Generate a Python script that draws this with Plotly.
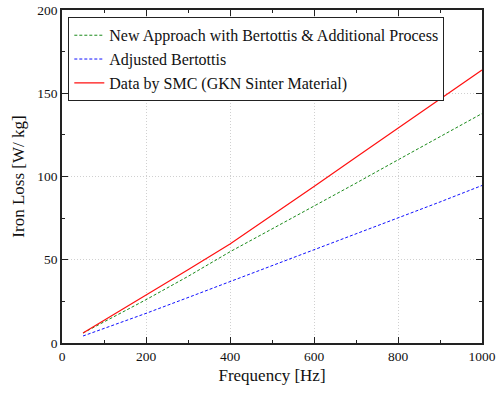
import plotly.graph_objects as go

freq = [50, 100, 200, 300, 400, 500, 600, 700, 800, 900, 1000]
new_approach = [6.0, 12.5, 26.0, 40.0, 54.8, 68.5, 82.0, 96.0, 110.0, 124.0, 137.8]
adjusted_bertottis = [4.2, 8.7, 17.8, 27.3, 36.8, 46.4, 55.9, 65.4, 74.9, 84.7, 94.6]
smc_freq = [50, 100, 200, 300, 400, 500, 600, 700, 800, 900, 1000]
smc_data = [6.0, 13.5, 28.5, 44.0, 59.5, 76.5, 94.0, 111.5, 129.0, 146.5, 164.0]

names = ["New Approach with Bertottis & Additional Process",
         "Adjusted Bertottis",
         "Data by SMC (GKN Sinter Material)"]

font_family = "Times New Roman, Liberation Serif, DejaVu Serif, serif"

fig = go.Figure()
fig.add_trace(go.Scatter(x=freq, y=new_approach, mode="lines", name=names[0],
                         line=dict(color="#1a8a1a", width=1, dash="3px,2px")))
fig.add_trace(go.Scatter(x=freq, y=adjusted_bertottis, mode="lines", name=names[1],
                         line=dict(color="#1010ff", width=1, dash="3px,2px")))
fig.add_trace(go.Scatter(x=smc_freq, y=smc_data, mode="lines", name=names[2],
                         line=dict(color="#ff1010", width=1.2)))

axis_common = dict(
    showline=True, linecolor="#222", linewidth=1.5, mirror="ticks",
    ticks="inside", ticklen=6, tickwidth=1.2, tickcolor="#222",
    showgrid=True, gridcolor="#d0d0d0", griddash="1px,2px", gridwidth=1,
    zeroline=False, ticklabeloverflow="allow", automargin=False,
    tickfont=dict(family=font_family, size=13.5, color="#111"),
)

fig.update_xaxes(range=[0, 1000], dtick=200, tick0=0,
                 minor=dict(dtick=100, ticks="inside", ticklen=3, tickcolor="#222", showgrid=False),
                 title=dict(text="Frequency [Hz]", font=dict(family=font_family, size=17, color="#111"), standoff=6),
                 **axis_common)
fig.update_yaxes(range=[0, 200], dtick=50, tick0=0,
                 minor=dict(dtick=25, ticks="inside", ticklen=3, tickcolor="#222", showgrid=False),
                 title=dict(text="Iron Loss [W/ kg]", font=dict(family=font_family, size=17, color="#111"), standoff=8),
                 **axis_common)

fig.update_layout(
    width=496, height=394,
    margin=dict(l=62, r=14, t=10, b=51),
    paper_bgcolor="white", plot_bgcolor="white",
    font=dict(family=font_family, size=15, color="#111"),
    showlegend=True,
    legend=dict(x=0.015, y=0.978, xanchor="left", yanchor="top",
                bordercolor="#222", borderwidth=1, bgcolor="white",
                font=dict(family=font_family, size=16, color="#111"),
                tracegroupgap=0, itemwidth=30),
)

fig.write_html("out.html")
